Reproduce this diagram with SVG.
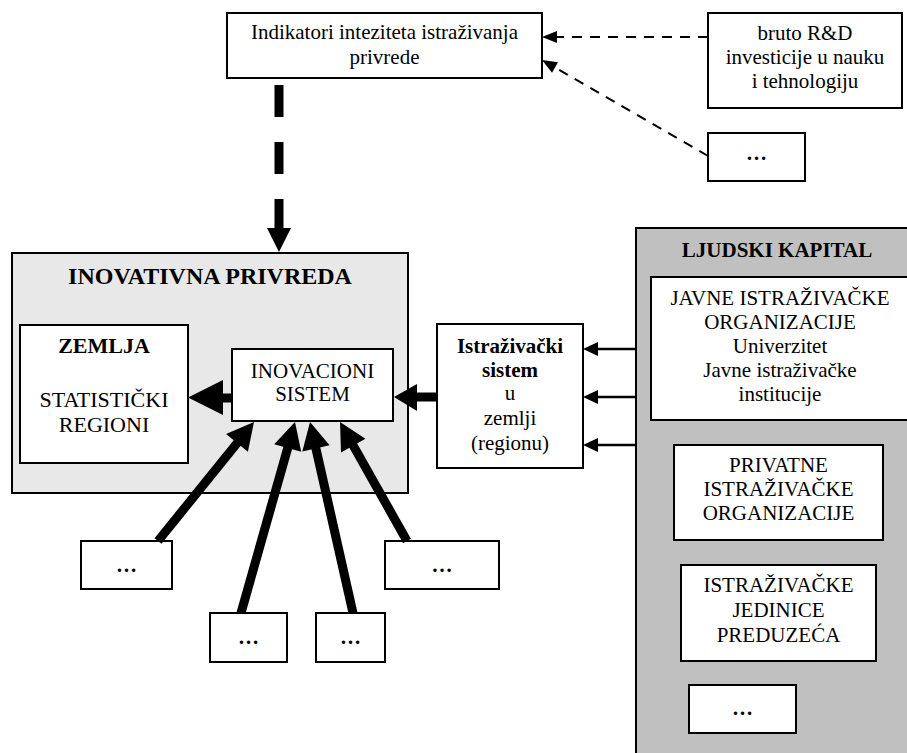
<svg xmlns="http://www.w3.org/2000/svg" width="907" height="753" viewBox="0 0 907 753">
  <style>
    text { font-family: "Liberation Serif", "Times New Roman", serif; font-size: 21px; fill: #000; text-anchor: middle; }
    .b { font-weight: bold; }
    .box { fill: #fff; stroke: #000; stroke-width: 2; }
    .thin { stroke: #000; stroke-width: 2.5; fill: none; }
    .dash { stroke: #000; stroke-width: 2; fill: none; stroke-dasharray: 10 8; }
    .thick { stroke: #000; stroke-width: 9; fill: none; }
    .head { fill: #000; stroke: none; }
  </style>

  <!-- containers -->
  <g id="ljudski-kapital">
    <rect x="636" y="228" width="280" height="540" fill="#c0c0c0" stroke="#000" stroke-width="2"/>
    <text class="b" x="777" y="257">LJUDSKI KAPITAL</text>
  </g>
  <g id="inovativna-privreda">
    <rect x="12" y="253" width="396" height="240" fill="#e8e8e8" stroke="#000" stroke-width="2"/>
    <text class="b" x="210" y="284" style="font-size:24px">INOVATIVNA PRIVREDA</text>
  </g>

  <!-- nodes -->
  <g id="indikatori">
    <rect class="box" x="227" y="13" width="315" height="65"/>
    <text x="384.5" y="39">Indikatori inteziteta istraživanja</text>
    <text x="384.5" y="64">privrede</text>
  </g>
  <g id="bruto-rd">
    <rect class="box" x="708" y="13" width="194" height="95"/>
    <text x="805" y="40">bruto R&amp;D</text>
    <text x="805" y="64">investicije u nauku</text>
    <text x="805" y="88">i tehnologiju</text>
  </g>
  <g id="top-more">
    <rect class="box" x="708" y="133" width="97" height="48"/>
    <text class="b" x="756.5" y="160">…</text>
  </g>
  <g id="zemlja">
    <rect class="box" x="20" y="325" width="168" height="138"/>
    <text class="b" x="104" y="353" style="font-size:22px">ZEMLJA</text>
    <text x="104" y="407" style="font-size:22px">STATISTIČKI</text>
    <text x="104" y="432" style="font-size:22px">REGIONI</text>
  </g>
  <g id="inovacioni-sistem">
    <rect class="box" x="232" y="349" width="161" height="72"/>
    <text x="312.5" y="378">INOVACIONI</text>
    <text x="312.5" y="401">SISTEM</text>
  </g>
  <g id="istrazivacki-sistem">
    <rect class="box" x="437" y="324" width="146" height="144"/>
    <text class="b" x="510" y="353">Istraživački</text>
    <text class="b" x="510" y="377">sistem</text>
    <text x="510" y="400">u</text>
    <text x="510" y="425">zemlji</text>
    <text x="510" y="450">(regionu)</text>
  </g>
  <g id="javne">
    <rect class="box" x="651" y="277" width="260" height="143"/>
    <text x="780" y="305">JAVNE ISTRAŽIVAČKE</text>
    <text x="780" y="329">ORGANIZACIJE</text>
    <text x="780" y="353">Univerzitet</text>
    <text x="780" y="377">Javne istraživačke</text>
    <text x="780" y="401">institucije</text>
  </g>
  <g id="privatne">
    <rect class="box" x="674" y="445" width="209" height="95"/>
    <text x="778.5" y="472">PRIVATNE</text>
    <text x="778.5" y="496">ISTRAŽIVAČKE</text>
    <text x="778.5" y="520">ORGANIZACIJE</text>
  </g>
  <g id="jedinice">
    <rect class="box" x="681" y="565" width="195" height="96"/>
    <text x="778.5" y="592">ISTRAŽIVAČKE</text>
    <text x="778.5" y="617">JEDINICE</text>
    <text x="778.5" y="642">PREDUZEĆA</text>
  </g>
  <g id="kapital-more">
    <rect class="box" x="689" y="685" width="107" height="48"/>
    <text class="b" x="742.5" y="715">…</text>
  </g>
  <g id="more-1">
    <rect class="box" x="81" y="541" width="91" height="48"/>
    <text class="b" x="126.5" y="572">…</text>
  </g>
  <g id="more-2">
    <rect class="box" x="210" y="613" width="77" height="49"/>
    <text class="b" x="248.5" y="644">…</text>
  </g>
  <g id="more-3">
    <rect class="box" x="316" y="613" width="69" height="49"/>
    <text class="b" x="350.5" y="644">…</text>
  </g>
  <g id="more-4">
    <rect class="box" x="385" y="541" width="114" height="48"/>
    <text class="b" x="442" y="572">…</text>
  </g>

  <!-- connectors -->
  <g id="connectors">
    <!-- indicators feeding the indicator box -->
    <line class="dash" x1="708" y1="37" x2="556" y2="37"/>
    <polygon class="head" points="542,37 557,31 557,43"/>
    <line class="dash" x1="708" y1="156" x2="556" y2="68"/>
    <polygon class="head" points="542,60 558,62.3 552,72.7"/>

    <!-- indicators applied to the economy -->
    <line class="thick" x1="279" y1="85" x2="279" y2="230" stroke-width="8" stroke-dasharray="32 25"/>
    <polygon class="head" points="267,228 291,228 279,252"/>

    <!-- innovation system to country -->
    <line class="thick" x1="232" y1="398" x2="222" y2="398" stroke-width="10"/>
    <polygon class="head" points="223,380 223,415 188,397.5"/>

    <!-- research system to innovation system -->
    <line class="thick" x1="437" y1="397" x2="416" y2="397" stroke-width="8"/>
    <polygon class="head" points="417,384 417,411 394,397"/>

    <!-- human capital to research system -->
    <line class="thin" x1="636" y1="349" x2="596" y2="349"/>
    <polygon class="head" points="583,349 598,342 598,356"/>
    <line class="thin" x1="636" y1="397" x2="596" y2="397"/>
    <polygon class="head" points="583,397 598,390 598,404"/>
    <line class="thin" x1="636" y1="445" x2="596" y2="445"/>
    <polygon class="head" points="583,445 598,438 598,452"/>

    <!-- other inputs to innovation system -->
    <line class="thick" x1="158" y1="541" x2="238" y2="442"/>
    <polygon class="head" points="254,422 247.9,451.7 226.1,434.1"/>
    <line class="thick" x1="241" y1="613" x2="288" y2="447"/>
    <polygon class="head" points="295,422 301.2,451.8 274.2,444.2"/>
    <line class="thick" x1="353" y1="613" x2="315.6" y2="447"/>
    <polygon class="head" points="310,422 329.6,445.3 302.3,451.4"/>
    <line class="thick" x1="407" y1="541" x2="352.7" y2="444.6"/>
    <polygon class="head" points="340,422 365.4,438.7 341,452.4"/>
  </g>
</svg>
